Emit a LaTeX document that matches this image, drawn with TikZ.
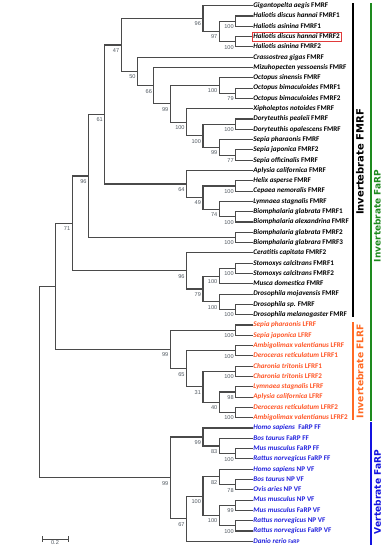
\documentclass[tikz,border=0pt]{standalone}
\usepackage{fontspec}
\setmainfont{Carlito}
\newfontfamily\grpfont{DejaVu Sans}
\newfontfamily\bootfont{Liberation Sans}

\definecolor{ramo}{HTML}{4A4A4A}
\definecolor{bootgrigio}{HTML}{505860}
\definecolor{lfrfarancio}{HTML}{FF5424}
\definecolor{vertblu}{HTML}{2222DD}
\definecolor{bararancio}{HTML}{FF6A24}
\definecolor{barverde}{HTML}{1E8A1E}
\definecolor{barblu}{HTML}{1414E0}
\definecolor{boxrosso}{HTML}{E03A3A}

\tikzset{
  branch/.style={draw=ramo, line width=1.1pt, line cap=rect},
  leaf/.style={anchor=west, inner sep=1.2pt, text height=5pt, text depth=1.4pt,
               font=\fontsize{7.15}{8}\selectfont\bfseries},
  boot/.style={anchor=north east, inner sep=0pt, xshift=-1.8pt, yshift=-3.3pt,
               text=bootgrigio, font=\bootfont\fontsize{5.6}{6}\selectfont},
  grp/.style={rotate=90, inner sep=0pt, font=\grpfont\bfseries\fontsize{#1}{12}\selectfont},
  scalebar/.style={|-|, draw=ramo, line width=0.5pt},
}

\begin{document}
\begin{tikzpicture}[x=1pt, y=-1pt]
\useasboundingbox (0,0) rectangle (387,550);

%% === ALBERO: x = livello dal bordo delle foglie, y = riga della foglia ===
\begin{scope}[x=-16.35pt, y=-10.3pt, xshift=252pt, yshift=4.6pt]

\foreach \i in {1,...,53} \coordinate (l\i) at (0,\i);

%% nodi interni: nome/livello/riga/bootstrap
\foreach \n/\lv/\ix/\bs in {
    hA/1/2.5/100, hB/1/4.5/100, h97/2/3.5/97, g96/3/2.25/96,
    oc79/1/9.5/79, oc100/2/8.75/100,
    dor/1/12.5/100, sp77/1/15.5/77, sp99/2/14.75/99, ds100/3/13.625/100,
    xp100/4/12.3125/100, ce99/5/10.53125/99, m66/6/8.7656/66, c50/7/7.3828/50, b47/8/4.8164/47,
    hc100/1/18.5/100, bg100/1/21.5/100, ly74/2/20.75/74, p49/3/19.625/49, ap64/4/18.3125/64,
    f61/9/11.5645/61, bg2/1/23.5/100, f96/10/17.532/96,
    st100/1/26.5/100, mu100/2/27.25/100, dr100/1/30.5/100, dm100/2/29.75/100,
    in79/3/28.5/79, in96/4/26.75/96, f71/11/22.141/71,
    sj100/1/32.5/100, ad100/1/34.5/100, ch100/1/36.5/100, la98/1/38.5/98, da100/1/40.5/100,
    lf40/2/39.5/40, lf31/3/38/31, lf65/4/36.25/65, lf99/5/34.375/99,
    mr100/1/44.5/100, b83/2/43.75/83, ff99/3/42.875/99, bo78/1/47.5/78, h82/2/46.75/82,
    mm99/1/49.5/99, rn100/1/51.5/100, r100/2/50.5/100, vf100/3/48.625/100,
    d67/4/50.8125/67, v99/5/46.84/99}{
  \coordinate (\n) at (\lv,\ix);
  \node[boot] (b-\n) at (\n) {\bs};
}
\coordinate (n55)  at (12,28.258);
\coordinate (root) at (13,37.549);

%% rami: padre/figlio
\foreach \p/\c in {
    hA/l2, hA/l3, hB/l4, hB/l5, h97/hA, h97/hB, g96/l1, g96/h97,
    oc79/l9, oc79/l10, oc100/l8, oc100/oc79,
    dor/l12, dor/l13, sp77/l15, sp77/l16, sp99/l14, sp99/sp77, ds100/dor, ds100/sp99,
    xp100/l11, xp100/ds100, ce99/oc100, ce99/xp100, m66/l7, m66/ce99, c50/l6, c50/m66,
    b47/g96, b47/c50,
    hc100/l18, hc100/l19, bg100/l21, bg100/l22, ly74/l20, ly74/bg100, p49/hc100, p49/ly74,
    ap64/l17, ap64/p49, f61/b47, f61/ap64, bg2/l23, bg2/l24, f96/f61, f96/bg2,
    st100/l26, st100/l27, mu100/st100, mu100/l28, dr100/l30, dr100/l31, dm100/l29, dm100/dr100,
    in79/mu100, in79/dm100, in96/l25, in96/in79, f71/f96, f71/in96,
    sj100/l32, sj100/l33, ad100/l34, ad100/l35, ch100/l36, ch100/l37, la98/l38, la98/l39,
    da100/l40, da100/l41, lf40/la98, lf40/da100, lf31/ch100, lf31/lf40, lf65/ad100, lf65/lf31,
    lf99/sj100, lf99/lf65, n55/f71, n55/lf99,
    mr100/l44, mr100/l45, b83/l43, b83/mr100, ff99/l42, ff99/b83, bo78/l47, bo78/l48,
    h82/l46, h82/bo78, mm99/l49, mm99/l50, rn100/l51, rn100/l52, r100/mm99, r100/rn100,
    vf100/h82, vf100/r100, d67/vf100, d67/l53, v99/ff99, v99/d67, root/n55, root/v99}
  \draw[branch] (\p) |- (\c);

%% etichette delle foglie
\foreach \i/\taxon/\gene in {
    1/Gigantopelta aegis/FMRF, 2/Haliotis discus hannai/FMRF1, 3/Haliotis asinina/FMRF1,
    4/Haliotis discus hannai/FMRF2, 5/Haliotis asinina/FMRF2, 6/Crassostrea gigas/FMRF,
    7/Mizuhopecten yessoensis/FMRF, 8/Octopus sinensis/FMRF, 9/Octopus bimaculoides/FMRF1,
    10/Octopus bimaculoides/FMRF2, 11/Xipholeptos notoides/FMRF, 12/Doryteuthis pealeii/FMRF,
    13/Doryteuthis opalescens/FMRF, 14/Sepia pharaonis/FMRF, 15/Sepia japonica/FMRF2,
    16/Sepia officinalis/FMRF, 17/Aplysia californica/FMRF, 18/Helix asperse/FMRF,
    19/Cepaea nemoralis/FMRF, 20/Lymnaea stagnalis/FMRF, 21/Biomphalaria glabrata/FMRF1,
    22/Biomphalaria alexandrina/FMRF, 23/Biomphalaria glabrata/FMRF2,
    24/Biomphalaria glabrara/FMRF3, 25/Ceratitis capitata/FMRF2, 26/Stomoxys calcitrans/FMRF1,
    27/Stomoxys calcitrans/FMRF2, 28/Musca domestica/FMRF, 29/Drosophila mojavensis/FMRF,
    30/Drosophila sp./FMRF, 31/Drosophila melanogaster/FMRF}
  \node[leaf] (t\i) at (l\i) {\textit{\taxon} \gene};

\foreach \i/\taxon/\gene in {
    32/Sepia pharaonis/LFRF, 33/Sepia japonica/LFRF, 34/Ambigolimax valentianus/LFRF,
    35/Deroceras reticulatum/LFRF1, 36/Charonia tritonis/LFRF1, 37/Charonia tritonis/LFRF2,
    38/Lymnaea stagnalis/LFRF, 39/Aplysia californica/LFRF, 40/Deroceras reticulatum/LFRF2,
    41/Ambigolimax valentianus/LFRF2}
  \node[leaf, text=lfrfarancio] (t\i) at (l\i) {\textit{\taxon} \gene};

\foreach \i/\taxon/\gene in {
    42/Homo sapiens/\ FaRP FF, 43/Bos taurus/FaRP FF, 44/Mus musculus/FaRP FF,
    45/Rattus norvegicus/FaRP FF, 46/Homo sapiens/NP VF, 47/Bos taurus/NP VF,
    48/Ovis aries/NP VF, 49/Mus musculus/NP VF, 50/Mus musculus/FaRP VF,
    51/Rattus norvegicus/NP VF, 52/Rattus norvegicus/FaRP VF,
    53/Danio rerio/{\fontsize{5.6}{6}\selectfont FaRP}}
  \node[leaf, text=vertblu] (t\i) at (l\i) {\textit{\taxon} \gene};

\draw[boxrosso, line width=0.5pt] (t4.south west) rectangle (t4.north east);

\end{scope}

%% === BARRE DEI GRUPPI ===
\fill[black] (352,3.3) rectangle (354.4,317.3);
\node[grp=10] (gFMRF) at (360,162) {Invertebrate FMRF};

\fill[bararancio] (351.5,321.7) rectangle (353.9,420);
\node[grp=9.2, text=bararancio] (gFLRF) at (360,371) {Invertebrate FLRF};

\draw[barverde, line width=1.3pt] (371,3.3) -- (371,420.5);
\node[grp=9, text=barverde] (gINV) at (377.3,216) {Invertebrate FaRP};

\fill[barblu] (370,421.7) rectangle (372.2,545);
\node[grp=9.1, text=barblu] (gVERT) at (377.5,492) {Vertebrate FaRP};

%% scala
\coordinate (sbL) at (42,539);
\coordinate (sbR) at (68,539);
\draw[scalebar] (sbL) -- node[below=1.2pt, inner sep=0pt, text=bootgrigio,
    font=\bootfont\fontsize{5.6}{6}\selectfont] (sbT) {0.2} (sbR);

\end{tikzpicture}
\end{document}
